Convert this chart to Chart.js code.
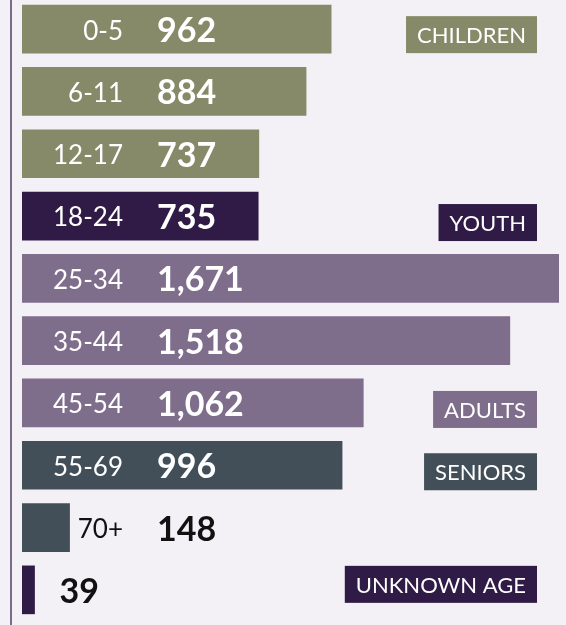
<!DOCTYPE html>
<html>
<head>
<meta charset="utf-8">
<script src="https://cdn.jsdelivr.net/npm/chart.js@4/dist/chart.umd.min.js"></script>
<style>
  html, body { margin: 0; padding: 0; background: #f3f1f5; overflow: hidden; }
  #wrap { position: relative; width: 566px; height: 627px; margin-top: -2px; }
</style>
</head>
<body>
<div id="wrap"><canvas id="c"></canvas></div>
<script>
// === データ ===
const ageGroups = ['0-5', '6-11', '12-17', '18-24', '25-34', '35-44', '45-54', '55-69', '70+', ''];
const counts = [962, 884, 737, 735, 1671, 1518, 1062, 996, 148, 39];
const groupOf = ['children', 'children', 'children', 'youth', 'adults', 'adults', 'adults', 'seniors', 'seniors', 'unknown'];
const tagLabels = ['CHILDREN', 'YOUTH', 'ADULTS', 'SENIORS', 'UNKNOWN AGE'];
const tagGroups = ['children', 'youth', 'adults', 'seniors', 'unknown'];
const tagRows = [0, 3, 6, 7, 9];

// === 色 ===
const colors = {
  children: '#868a68',
  youth: '#2f1b45',
  adults: '#7f6d8c',
  seniors: '#434f58',
  unknown: '#2f1b45'
};
const tagShift = [5, 6, 6, 6, -6];

const labelPlugin = {
  id: 'labels',
  beforeDraw(chart) {
    const { ctx } = chart;
    ctx.save();
    ctx.fillStyle = '#7a6b8a';
    ctx.fillRect(10, 0, 2, chart.height);
    ctx.restore();
  },
  afterDatasetsDraw(chart) {
    const { ctx, chartArea } = chart;
    const meta = chart.getDatasetMeta(0);
    const x = chart.scales.x;
    ctx.save();
    ctx.textBaseline = 'middle';
    meta.data.forEach((bar, i) => {
      const y = bar.y + 2;
      const end = x.getPixelForValue(counts[i]);
      const labelRight = chartArea.left + 101;
      if (ageGroups[i]) {
        ctx.font = '400 26px Lato';
        ctx.textAlign = 'right';
        const w = ctx.measureText(ageGroups[i]).width;
        ctx.fillStyle = end > labelRight - w ? '#ffffff' : '#111111';
        ctx.fillText(ageGroups[i], labelRight, y);
      }
      const vx = ageGroups[i] ? chartArea.left + 135 : end + 25;
      ctx.font = '700 34px Lato';
      ctx.textAlign = 'left';
      ctx.fillStyle = end > vx + 20 ? '#ffffff' : '#111111';
      ctx.fillText(counts[i].toLocaleString('en-US'), vx, y);
    });
    // グループのタグ
    ctx.font = '400 22px Lato';
    tagLabels.forEach((t, k) => {
      const bar = meta.data[tagRows[k]];
      const cy = bar.y + tagShift[k];
      const w = ctx.measureText(t).width + 22;
      const right = chartArea.left + 515;
      ctx.fillStyle = colors[tagGroups[k]];
      ctx.fillRect(right - w, cy - 18, w, 37);
      ctx.fillStyle = '#ffffff';
      ctx.textAlign = 'center';
      ctx.fillText(t, right - w / 2, cy + 2);
    });
    ctx.restore();
  }
};

new Chart(document.getElementById('c'), {
  type: 'bar',
  data: {
    labels: ageGroups,
    datasets: [{
      data: counts,
      backgroundColor: groupOf.map(g => colors[g]),
      barThickness: 48,
      borderWidth: 0
    }]
  },
  options: {
    indexAxis: 'y',
    responsive: true,
    maintainAspectRatio: false,
    animation: false,
    layout: { padding: { left: 22, right: 7, top: 0, bottom: 4 } },
    plugins: { legend: { display: false }, tooltip: { enabled: false } },
    scales: {
      x: { display: false, min: 0, max: 1671 },
      y: { display: false }
    }
  },
  plugins: [labelPlugin]
});
</script>
</body>
</html>
